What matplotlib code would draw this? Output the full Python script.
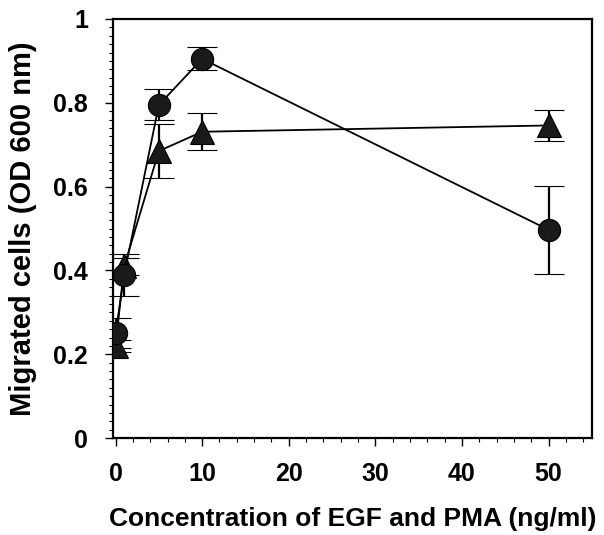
import matplotlib
matplotlib.use("Agg")
import matplotlib.pyplot as plt
from matplotlib.ticker import MultipleLocator

# Concentration (ng/ml)
conc = [0, 1, 5, 10, 50]

# EGF series (circles)
egf_mean = [0.25, 0.39, 0.795, 0.905, 0.497]
egf_err = [0.036, 0.05, 0.037, 0.027, 0.105]

# PMA series (triangles)
pma_mean = [0.22, 0.41, 0.685, 0.731, 0.746]
pma_err = [0.015, 0.02, 0.065, 0.044, 0.036]

xticks = [0, 10, 20, 30, 40, 50]
yticks = [0, 0.2, 0.4, 0.6, 0.8, 1]
ytick_labels = ["0", "0.2", "0.4", "0.6", "0.8", "1"]

plt.rcParams["font.family"] = ["Liberation Sans", "DejaVu Sans"]
plt.rcParams["font.weight"] = "bold"

fig = plt.figure(figsize=(6.04, 5.35), dpi=100)
ax = fig.add_axes([0.187, 0.181, 0.793, 0.7835])

common = dict(color="black", ecolor="black", elinewidth=1.6, capsize=11,
              capthick=2.0, linewidth=1.3, markeredgecolor="black",
              markerfacecolor="#1a1a1a", markeredgewidth=0.8, zorder=3)

ax.errorbar(conc, pma_mean, yerr=pma_err, marker="^", markersize=17, **common)
ax.errorbar(conc, egf_mean, yerr=egf_err, marker="o", markersize=16, **common)

ax.set_xlim(-0.3, 55)
ax.set_ylim(0, 1)
ax.set_xticks(xticks)
ax.set_yticks(yticks)
ax.set_yticklabels(ytick_labels)
ax.xaxis.set_minor_locator(MultipleLocator(2))
ax.yaxis.set_minor_locator(MultipleLocator(0.02))

ax.tick_params(axis="both", which="major", direction="out", length=6,
               width=1.0, labelsize=18)
ax.tick_params(axis="both", which="minor", direction="out", length=3,
               width=0.8)
ax.tick_params(axis="x", which="major", pad=11)
ax.tick_params(axis="y", which="major", pad=12)
for lab in ax.get_xticklabels() + ax.get_yticklabels():
    lab.set_fontweight("bold")

for sp in ax.spines.values():
    sp.set_linewidth(1.6)

ax.set_xlabel("Concentration of EGF and PMA (ng/ml)", fontsize=19,
              fontweight="bold", labelpad=15)
ax.set_ylabel("Migrated cells (OD 600 nm)", fontsize=21,
              fontweight="bold", labelpad=12)

fig.savefig("out.png", dpi=100)
